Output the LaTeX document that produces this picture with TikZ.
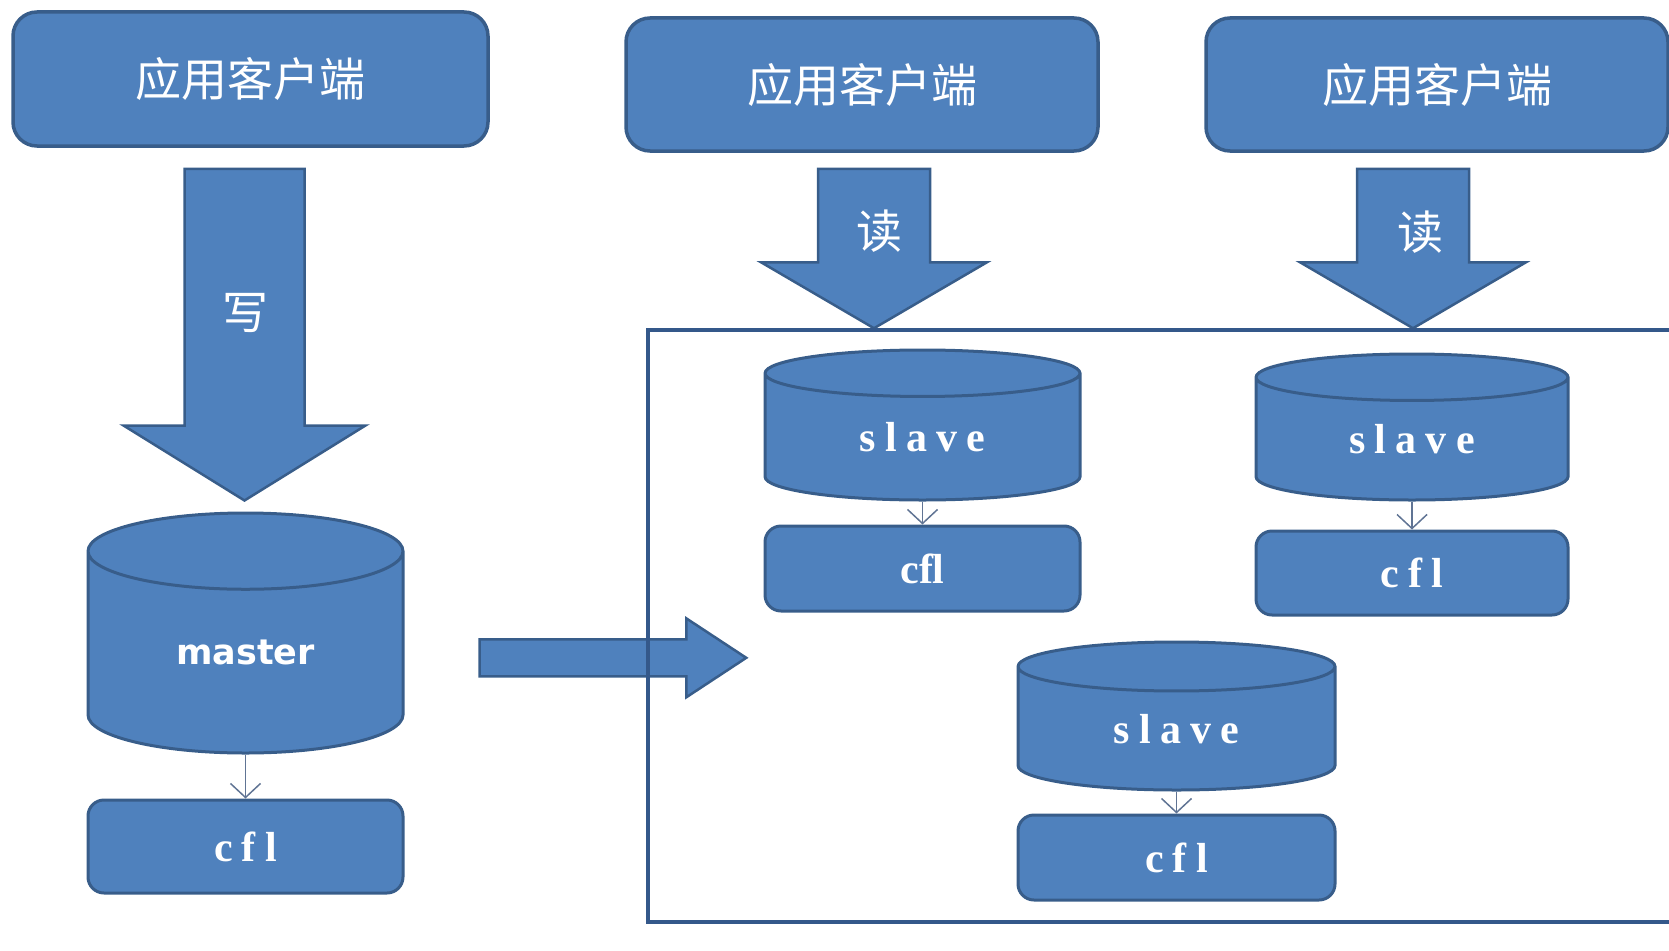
\documentclass[tikz,border=0pt]{standalone}
\usepackage{fontspec}
\usetikzlibrary{shapes.geometric, arrows.meta, positioning, calc, backgrounds}
\newfontfamily\cjkFont{Noto Sans CJK SC}
\newfontfamily\dbFont{DejaVu Sans}
\newfontfamily\codeFont[LetterSpace=22]{Liberation Serif}
\newfontfamily\romanFont{Liberation Serif}
\definecolor{cBoxFill}{RGB}{79, 129, 189}
\definecolor{cBoxDraw}{RGB}{56, 93, 138}
\definecolor{cFrame}{RGB}{52, 88, 138}
\definecolor{cLink}{RGB}{96, 116, 148}
\tikzset{
    % --- client boxes ---
    clientBox/.style={
        rectangle, rounded corners=24pt, draw=cBoxDraw, fill=cBoxFill,
        line width=3.5pt, text=white, inner sep=0pt,
        font=\cjkFont\fontsize{46}{50}\selectfont
    },
    % --- databases ---
    dbNode/.style={
        cylinder, shape border rotate=90, draw=cBoxDraw, fill=cBoxFill,
        line width=3pt, text=white, inner sep=0pt
    },
    cflBox/.style={
        rectangle, rounded corners=16pt, draw=cBoxDraw, fill=cBoxFill,
        line width=3pt, text=white, inner sep=0pt,
        font=\codeFont\bfseries\fontsize{42}{44}\selectfont
    },
    arrowLabel/.style={
        text=white, inner sep=0pt, font=\cjkFont\fontsize{46}{50}\selectfont
    },
    groupFrame/.style={
        rectangle, draw=cFrame, line width=3.5pt, inner sep=0pt
    },
    % --- links ---
    dbLink/.style={
        draw=cLink, line width=1.5pt,
        -{Straight Barb[length=14pt, width=30pt]}
    },
    % block arrows: shaft half width, head half width, head length
    downArrow/.style n args={3}{
        draw=cBoxDraw, fill=cBoxFill, line width=2.5pt, line join=miter,
        to path={
            let \p1=(\tikztostart), \p2=(\tikztotarget) in
            (\x1-#1,\y1) -- (\x1+#1,\y1) -- (\x1+#1,\y2+#3) -- (\x1+#2,\y2+#3)
            -- (\x1,\y2) -- (\x1-#2,\y2+#3) -- (\x1-#1,\y2+#3) -- cycle
        }
    },
    rightArrow/.style n args={3}{
        draw=cBoxDraw, fill=cBoxFill, line width=2.5pt, line join=miter,
        to path={
            let \p1=(\tikztostart), \p2=(\tikztotarget) in
            (\x1,\y1+#1) -- (\x2-#3,\y1+#1) -- (\x2-#3,\y1+#2) -- (\x2,\y1)
            -- (\x2-#3,\y1-#2) -- (\x2-#3,\y1-#1) -- (\x1,\y1-#1) -- cycle
        }
    }
}

\begin{document}
\begin{tikzpicture}[x=1pt, y=-1pt]
    \useasboundingbox (0,0) rectangle (1669,950);

    % =========================================
    % 1. clients
    % =========================================
    \node[clientBox, minimum width=475pt, minimum height=134pt] (c1) at (250.5,79) {应用客户端};
    \node[clientBox, minimum width=472pt, minimum height=133pt] (c2) at (862,84.5) {应用客户端};
    \node[clientBox, minimum width=462pt, minimum height=133pt] (c3) at (1437,84.5) {应用客户端};

    % =========================================
    % 2. master side
    % =========================================
    \node[dbNode, minimum width=315pt, minimum height=240pt, shape aspect=0.55, anchor=shape center] (master) at (245.5,633)
        {\dbFont\bfseries\fontsize{35}{40}\selectfont master};
    \node[cflBox, minimum width=315pt, minimum height=93pt, below=44pt of master] (cflM) {cfl};
    \draw[dbLink] (master.south) -- (cflM.north);

    % =========================================
    % 3. slave group
    % =========================================
    \node[groupFrame, minimum width=1032pt, minimum height=592pt] (cluster) at (1164,626) {};

    \node[dbNode, minimum width=315pt, minimum height=150pt, shape aspect=0.37, anchor=shape center] (s1) at (922.5,425)
        {\codeFont\bfseries\fontsize{42}{44}\selectfont slave};
    \node[cflBox, minimum width=315pt, minimum height=85pt, below=23pt of s1] (cfl1)
        {\romanFont\bfseries\fontsize{42}{44}\selectfont cfl};

    \node[dbNode, minimum width=312pt, minimum height=146pt, shape aspect=0.37, anchor=shape center] (s2) at (1412,427)
        {\codeFont\bfseries\fontsize{42}{44}\selectfont slave};
    \node[cflBox, minimum width=312pt, minimum height=84pt, below=28pt of s2] (cfl2) {cfl};

    \node[dbNode, minimum width=317pt, minimum height=148pt, shape aspect=0.39, anchor=shape center] (s3) at (1176.5,716)
        {\codeFont\bfseries\fontsize{42}{44}\selectfont slave};
    \node[cflBox, minimum width=317pt, minimum height=85pt, below=22pt of s3] (cfl3) {cfl};

    \draw[dbLink] (s1.south) -- (cfl1.north);
    \draw[dbLink] (s2.south) -- (cfl2.north);
    \draw[dbLink] (s3.south) -- (cfl3.north);

    % =========================================
    % 4. block arrows (under the frame line)
    % =========================================
    \begin{scope}[on background layer]
        \draw[downArrow={60pt}{121pt}{75pt}] ([xshift=-6pt, yshift=-21pt]c1.south) to ([yshift=11pt]master.north);
        \draw[downArrow={56pt}{113pt}{66pt}] ([xshift=12pt, yshift=-16pt]c2.south) to ([xshift=12pt]c2.south |- cluster.north);
        \draw[downArrow={56pt}{113pt}{66pt}] ([xshift=-24pt, yshift=-16pt]c3.south) to ([xshift=-24pt]c3.south |- cluster.north);
        \draw[rightArrow={18.5pt}{39.5pt}{60pt}] ([xshift=75pt, yshift=-5pt]master.east) to ([xshift=100pt]cluster.west);
    \end{scope}

    \node[arrowLabel] (wLabel) at (245,313) {写};
    \node[arrowLabel] (rLabel1) at (879,231) {读};
    \node[arrowLabel] (rLabel2) at (1420,232) {读};

\end{tikzpicture}
\end{document}
